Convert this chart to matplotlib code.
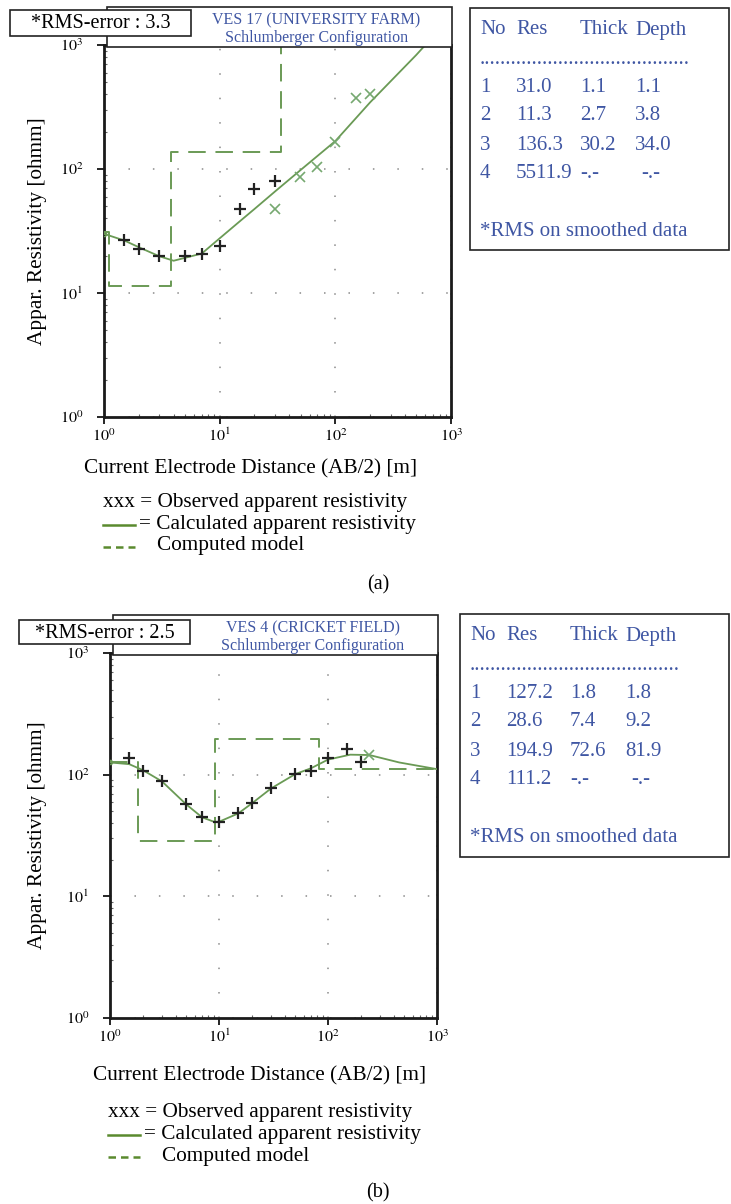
import numpy as np
import matplotlib.pyplot as plt
from matplotlib.patches import Rectangle
from matplotlib.lines import Line2D

W, H = 731, 1204
plt.rcParams['font.family'] = ['Liberation Serif', 'DejaVu Serif']
plt.rcParams['mathtext.fontset'] = 'stix'

# ---- panel (a): VES 17 (University Farm)
a_res = [31.0, 11.3, 136.3, 5511.9]
a_thick = [1.1, 2.7, 30.2]
a_depth = [1.1, 3.8, 34.0]
a_rms = 3.3
a_obs_x = [1.5, 2.0, 3.0, 5.0, 7.0, 10.0, 15.0, 20.0, 30.0]
a_obs_y = [26.8, 22.7, 19.8, 19.8, 20.8, 23.8, 47.5, 68.4, 79.4]
a_sm_x = [30.0, 49.4, 69.8, 99.3, 150.7, 198.0]
a_sm_y = [47.5, 86.1, 103.0, 164.0, 371.0, 400.0]
a_calc_x = [1, 1.5, 2, 3, 4, 5, 7, 10, 15, 20, 30, 50, 100, 200, 500, 600]
a_calc_y = [30, 26.5, 23.4, 19.8, 18.2, 19.2, 20.8, 27.6, 38, 47.6, 65.7, 98, 168, 345, 830, 1000]

# ---- panel (b): VES 4 (Cricket Field)
b_res = [127.2, 28.6, 194.9, 111.2]
b_thick = [1.8, 7.4, 72.6]
b_depth = [1.8, 9.2, 81.9]
b_rms = 2.5
b_obs_x = [1.5, 2, 3, 5, 7, 10, 15, 20, 30, 50, 70, 100, 150, 200]
b_obs_y = [136, 108, 88, 57, 44.5, 41, 48, 58, 77, 101, 108, 138, 164, 128]
b_sm_x = [240.0]
b_sm_y = [146.0]
b_calc_x = [1, 1.5, 2, 3, 5, 7, 9, 10, 15, 20, 30, 50, 70, 100, 160, 240, 450, 1000]
b_calc_y = [126, 122, 109, 88, 57, 44.6, 41, 41, 48, 58, 77, 101, 113, 133, 146, 145, 126, 111]

GREEN = '#6a9a55'
LEG_GREEN = '#5a8a2e'
BLUE = '#3f56a3'
FS = 15.3

fig = plt.figure(figsize=(W / 100, H / 100), dpi=100)


def fx(px):
    return px / W


def fy(py):
    return 1 - py / H


def box(x0, y0, x1, y1, lw=1.2, z=5):
    fig.patches.append(Rectangle((fx(x0), fy(y1)), fx(x1) - fx(x0), fy(y0) - fy(y1),
                                 transform=fig.transFigure, fill=True, fc='white',
                                 ec='#222222', lw=lw, zorder=z))


def panel(geo, res, depth, rms, obs_x, obs_y, sm_x, sm_y, calc_x, calc_y,
          title, table, off, tag):
    x0, y0, x1, y1 = geo
    ax = fig.add_axes([fx(x0), fy(y1), fx(x1) - fx(x0), fy(y0) - fy(y1)])
    ax.set_xscale('log')
    ax.set_yscale('log')
    ax.set_xlim(1, 1000)
    ax.set_ylim(1, 1000)

    # model step from layer table
    mx = [1]
    my = [res[0]]
    for d, r in zip(depth, res[1:]):
        mx += [d, d]
        my += [my[-1], r]
    mx.append(1000)
    my.append(my[-1])
    ax.plot(mx, my, color=GREEN, lw=1.4, dashes=(9, 5), zorder=3)
    ax.plot(calc_x, calc_y, color=GREEN, lw=1.3, zorder=4)
    ax.plot(calc_x[0], calc_y[0], 'o', mfc='none', mec=GREEN, ms=3, zorder=4)
    ax.plot(obs_x, obs_y, '+', color='#222222', ms=8, mew=1.6, zorder=5)
    ax.plot(sm_x, sm_y, 'x', color='#76a870', ms=6.5, mew=1.2, zorder=5)

    ax.set_xticks([1, 10, 100, 1000])
    ax.set_xticklabels(['$10^0$', '$10^1$', '$10^2$', '$10^3$'])
    ax.set_yticks([1, 10, 100, 1000])
    ax.set_yticklabels(['$10^0$', '$10^1$', '$10^2$', '$10^3$'])
    ax.tick_params(which='major', direction='out', length=5, width=1.2,
                   labelsize=11.5, pad=3)
    ax.tick_params(axis='y', which='major', pad=10)
    ax.tick_params(which='minor', direction='in', length=2.5, width=0.8,
                   color='#666666')
    ax.grid(True, which='major', color='#8a8a8a', lw=1.1, linestyle=(0, (1, 15)))
    for s in ax.spines.values():
        s.set_linewidth(2)
        s.set_color('#1a1a1a')

    # title box and rms box
    box(x0 + 3, y0 - 38, x1 + 1, y0 + 2)
    tcx = (x0 + x1) / 2 + 39
    fig.text(fx(tcx), fy(y0 - 25), title[0], color=BLUE,
             fontsize=11.5, ha='center', va='center', zorder=8)
    fig.text(fx(tcx), fy(y0 - 7), title[1], color=BLUE,
             fontsize=11.5, ha='center', va='center', zorder=8)
    rb = off['rms']
    box(*rb, z=6)
    fig.text(fx((rb[0] + rb[2]) / 2), fy((rb[1] + rb[3]) / 2 + 1),
             '*RMS-error : %.1f' % rms, fontsize=14.5, ha='center', va='center',
             zorder=8)

    # y / x labels
    fig.text(fx(38), fy((y0 + y1) / 2), 'Appar. Resistivity [ohmm]', rotation=90,
             fontsize=FS, ha='center', va='center')
    fig.text(fx(off['xl'][0]), fy(off['xl'][1]), 'Current Electrode Distance (AB/2) [m]',
             fontsize=FS, ha='center', va='center')
    lx, ly = off['leg']
    fig.text(fx(lx), fy(ly), 'xxx = Observed apparent resistivity', fontsize=FS,
             va='center')
    fig.text(fx(lx + 36), fy(ly + 22), '= Calculated apparent resistivity',
             fontsize=FS, va='center')
    fig.text(fx(lx + 54), fy(ly + 43), 'Computed model', fontsize=FS, va='center')
    fig.lines.append(Line2D([fx(lx), fx(lx + 32)], [fy(ly + 22), fy(ly + 22)],
                            color=LEG_GREEN, lw=1.8, transform=fig.transFigure))
    fig.lines.append(Line2D([fx(lx), fx(lx + 32)], [fy(ly + 44), fy(ly + 44)],
                            color=LEG_GREEN, lw=1.8, dashes=(3, 2),
                            transform=fig.transFigure))
    fig.text(fx(378), fy(off['tag']), tag, fontsize=14.5, ha='center', va='center')

    # layer table
    tb = off['tab']
    box(*tb, z=1)
    tx = tb[0]
    ty = tb[1]
    cols = [10, 46, 110, 165]
    for c, h in zip(cols, ['No', 'Res', 'Thick', 'Depth']):
        fig.text(fx(tx + c), fy(ty + 22), h, color=BLUE, fontsize=15, va='center',
                 zorder=8)
    fig.text(fx(tx + 10), fy(ty + 52), '.' * 40, color=BLUE, fontsize=15,
             va='center', zorder=8)
    for i, row in enumerate(table):
        for j, v in enumerate(row):
            xo = cols[j] + (6 if (v == '-.-' and j == 3) else 0)
            fig.text(fx(tx + xo), fy(ty + 79 + 29 * i), v, color=BLUE, fontsize=15,
                     va='center', zorder=8)
    fig.text(fx(tx + 10), fy(ty + 223), '*RMS on smoothed data', color=BLUE,
             fontsize=15, va='center', zorder=8)
    return ax


def layer_rows(res, thick, depth):
    rows = []
    for i, r in enumerate(res):
        t = '%.1f' % thick[i] if i < len(thick) else '-.-'
        d = '%.1f' % depth[i] if i < len(depth) else '-.-'
        rows.append([str(i + 1), '%.1f' % r, t, d])
    return rows


panel((104, 45, 451, 417), a_res, a_depth, a_rms, a_obs_x, a_obs_y, a_sm_x, a_sm_y,
      a_calc_x, a_calc_y, ['VES 17 (UNIVERSITY FARM)', 'Schlumberger Configuration'],
      layer_rows(a_res, a_thick, a_depth),
      {'rms': (10, 10, 191, 36), 'xl': (251, 469), 'leg': (103, 503), 'tag': 585,
       'tab': (470, 8, 729, 250)}, '(a)')

panel((110, 653, 437, 1018), b_res, b_depth, b_rms, b_obs_x, b_obs_y, b_sm_x, b_sm_y,
      b_calc_x, b_calc_y, ['VES 4 (CRICKET FIELD)', 'Schlumberger Configuration'],
      layer_rows(b_res, b_thick, b_depth),
      {'rms': (19, 620, 190, 644), 'xl': (260, 1076), 'leg': (108, 1113), 'tag': 1193,
       'tab': (460, 614, 729, 857)}, '(b)')

fig.savefig('out.png', dpi=100)
